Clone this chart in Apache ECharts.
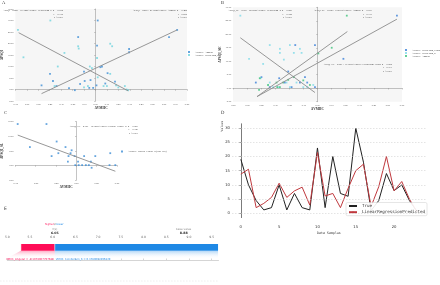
<!DOCTYPE html>
<html>
<head>
<meta charset="utf-8">
<script src="https://cdn.jsdelivr.net/npm/echarts@6/dist/echarts.min.js"></script>
<style>
  html, body { margin: 0; padding: 0; background: #fff; }
  #chart { width: 440px; height: 285px; }
</style>
</head>
<body>
<div id="chart"></div>
<script>
// ---- panel A: ΔPSQI vs ΔVMHC ----
const aAngular = [
  [-0.471, 1.8], [-0.397, 6.8], [-0.371, 3.7], [-0.340, 1.5], [-0.231, 0.6], [-0.180, -0.3],
  [-0.151, 22.8], [-0.134, 2.4], [-0.100, 7.8], [-0.094, 3.7], [-0.054, 0.7], [-0.043, 4.1],
  [-0.020, 0.7], [0.014, 19.1], [0.020, 30.0], [0.009, 1.8], [0.043, 9.7], [0.057, 10.0],
  [0.086, 2.6], [0.106, 7.1], [0.171, 3.4], [0.294, 17.6], [0.294, 16.2], [0.643, 22.8], [0.714, 25.9]
];
const aCerebellum6 = [
  [-0.677, 25.9], [-0.629, 14.0], [-0.394, 30.0], [-0.329, 10.0], [-0.271, 15.9], [-0.151, 18.8],
  [-0.146, 17.8], [-0.049, 10.0], [-0.031, 9.3], [0.014, 13.7], [0.129, 19.9], [0.146, 18.8],
  [0.129, 6.8], [0.020, 5.3], [0.071, 1.5], [0.100, 1.5], [0.180, 1.8], [0.200, 0.9],
  [0.257, 1.5], [0.271, 0.0], [0.286, -0.3], [-0.066, 1.5], [-0.100, 0.9], [-0.357, 1.5]
];
const aFitCerebellum6 = [[-0.671, 24.7], [0.286, -0.6]];
const aFitAngular = [[-0.471, -1.8], [0.714, 25.9]];

// ---- panel B: ΔPSQI_SE vs ΔVMHC ----
const bCrus2 = [
  [-0.438, 2.1], [-0.398, 4.1], [-0.339, 0.4], [-0.272, 3.7], [-0.232, 2.1], [-0.184, 0.4],
  [-0.158, 16.0], [-0.125, 2.1], [-0.073, 2.1], [-0.018, 16.0], [-0.018, 0.4], [0.184, 10.9],
  [0.564, 26.9], [-0.208, 6.2], [-0.089, 4.1]
];
const bCerebellum4 = [
  [-0.548, 26.9], [-0.486, 10.9], [-0.386, 9.0], [-0.339, 16.0], [-0.267, 14.6], [-0.267, 13.1],
  [-0.239, 10.6], [-0.196, 16.0], [-0.168, 13.1], [-0.125, 14.6], [-0.113, 13.1], [-0.405, 3.7],
  [-0.339, 2.1], [-0.315, 0.4], [-0.279, 0.4], [-0.220, 2.1], [-0.196, 0.4], [-0.149, 2.1],
  [-0.101, 0.4], [-0.073, 0.4], [-0.030, 1.2]
];
const bAngular = [
  [-0.415, -0.6], [-0.410, 3.7], [-0.351, 1.2], [-0.291, 2.1], [-0.286, 0.4], [-0.244, 2.1],
  [-0.208, 3.1], [-0.168, 4.1], [-0.101, 2.9], [-0.054, 1.2], [0.006, 12.9], [0.101, 15.0],
  [0.208, 26.9], [-0.267, 0.4]
];
const bFitCerebellum4 = [[-0.548, 18.7], [-0.018, -1.6]];
const bFitAngular = [[-0.429, -3.1], [0.212, 21.0]];
const bFitCrus2 = [[-0.429, -3.1], [0.564, 25.6]];

// ---- panel C ----
const cParietal = [
  [-0.721, 14.2], [-0.571, 6.3], [-0.367, 14.2], [-0.304, 3.2], [-0.242, 8.2], [-0.221, 4.2],
  [-0.133, 6.3], [-0.104, 1.3], [-0.096, 3.2], [-0.071, 4.2], [-0.058, 5.2], [-0.021, 3.2],
  [-0.013, 0.1], [0.021, 1.3], [0.029, 0.1], [0.071, 0.1], [0.096, 3.2], [0.117, 0.1],
  [0.154, 0.1], [0.179, 1.3], [0.188, -0.8], [0.233, 3.2], [0.417, 4.2], [0.408, 0.1], [0.479, 0.1]
];
const cFit = [[-0.72, 10.4], [0.48, -2.0]];

// ---- panel D: true vs predicted ----
const dTrue =      [19, 10, 4.5, 1.2, 2, 10, 1.2, 7, 2, 1.2, 23, 2, 20, 7, 6, 30, 18, 1, 4.5, 14, 8, 10, 4.5, 0.6];
const dPredicted = [13.8, 15.5, 2, 3.5, 5.6, 10.6, 5.6, 7.9, 9.2, 2.9, 21.4, 6.1, 7, 2, 8.8, 15, 17.3, 2.4, 9.4, 20, 7.9, 11.2, 5, 0.5];
const dTicksX = [0, 5, 10, 15, 20];
const dTicksY = [0, 5, 10, 15, 20, 25, 30];

// ---- panel E: force plot ----
const eSegments = [[5.30, 6.046, 0], [6.046, 9.64, 1]];
const eFx = 6.046;
const eBase = 8.883;
const eTicks = [5.0, 5.5, 6.0, 6.5, 7.0, 7.5, 8.0, 8.5, 9.0, 9.5];
const eFeatures = ['VMHC_Angular = -0.1074067797686', 'VMHC_Cerebellum_6 = 0.3780602495829'];

const serif = 'Liberation Serif';
const pink = '#ff0d57';
const blue = '#1e88e5';

function sAxis(grid, min, max, interval, digits, name, gap) {
  return {
    gridIndex: grid, type: 'value', min: min, max: max, interval: interval,
    name: name, nameLocation: 'middle', nameGap: gap,
    nameTextStyle: { fontSize: 3.4, fontFamily: serif, fontWeight: 'bold', color: '#333' },
    axisLine: { lineStyle: { color: '#888', width: 0.5 } },
    axisTick: { length: 1.2, lineStyle: { color: '#888', width: 0.5 } },
    axisLabel: { fontSize: 2.5, fontFamily: serif, color: '#444', margin: 1.8,
      formatter: function (v) { return v.toFixed(digits); } },
    splitLine: { show: false }
  };
}

function dots(name, data, xi, color) {
  return { name: name, type: 'scatter', xAxisIndex: xi, yAxisIndex: xi, data: data,
    symbol: 'rect', symbolSize: 1.8, itemStyle: { color: color } };
}
function fit(data, xi) {
  return { name: 'fit', type: 'line', xAxisIndex: xi, yAxisIndex: xi, data: data,
    symbol: 'none', silent: true, lineStyle: { color: '#8c8c8c', width: 0.9 } };
}

function txt(x, y, s, opt) {
  opt = opt || {};
  return { type: 'text', x: x, y: y, silent: true, rotation: opt.rot || 0,
    style: { text: s, fill: opt.color || '#333', font: (opt.weight || 'normal') + ' ' + (opt.size || 2.4) + 'px ' + (opt.family || serif),
      textAlign: opt.align || 'left', align: opt.align || 'left', textVerticalAlign: 'middle', verticalAlign: 'middle' } };
}

function renderForce(params, api) {
  const p0 = api.coord([api.value(0), 1]);
  const p1 = api.coord([api.value(1), 1]);
  const kind = api.value(2);
  const top = p0[1] + 4, h = 6.7, bot = top + h;
  const col = kind === 0 ? pink : blue;
  const children = [];
  const fade = kind === 0
    ? [[p0[0], bot], [p1[0], bot], [p1[0], bot + 7.5], [p0[0] - 14, bot + 7.5]]
    : [[p0[0], bot], [p1[0], bot], [p1[0], bot + 8], [p0[0], bot + 8]];
  children.push({ type: 'polygon', shape: { points: fade },
    style: { fill: new echarts.graphic.LinearGradient(0, 0, 0, 1, [
      { offset: 0, color: kind === 0 ? 'rgba(255,13,87,0.35)' : 'rgba(30,136,229,0.35)' },
      { offset: 1, color: 'rgba(255,255,255,0)' }]) } });
  children.push({ type: 'rect', shape: { x: p0[0], y: top, width: p1[0] - p0[0], height: h }, style: { fill: col } });
  children.push({ type: 'line', shape: { x1: p0[0], y1: top, x2: p0[0], y2: bot }, style: { stroke: '#fff', lineWidth: 0.5 } });
  const lbl = txt(kind === 0 ? p1[0] - 1 : p0[0] + 1, bot + 8.5, eFeatures[kind],
    { color: col, size: 2.6, family: 'DejaVu Sans', align: kind === 0 ? 'right' : 'left' });
  children.push(lbl);
  if (params.dataIndex === 0) {
    const fx = api.coord([eFx, 1])[0];
    const bs = api.coord([eBase, 1])[0];
    children.push(txt(fx - 1, -16 + p0[1], 'higher', { color: pink, size: 2.8, family: 'DejaVu Sans', align: 'right' }));
    children.push(txt(fx, -16 + p0[1], '⇄', { color: '#888', size: 2.8, family: 'DejaVu Sans', align: 'center' }));
    children.push(txt(fx + 1.2, -16 + p0[1], 'lower', { color: blue, size: 2.8, family: 'DejaVu Sans', align: 'left' }));
    children.push(txt(fx, -11 + p0[1], 'f(x)', { color: '#888', size: 2.8, family: 'DejaVu Sans', align: 'center' }));
    children.push(txt(fx, -7 + p0[1], eFx.toFixed(2), { color: '#222', size: 3.2, family: 'DejaVu Sans', weight: 'bold', align: 'center' }));
    children.push(txt(bs, -11 + p0[1], 'base value', { color: '#888', size: 2.8, family: 'DejaVu Sans', align: 'center' }));
    children.push(txt(bs, -7 + p0[1], eBase.toFixed(2), { color: '#222', size: 3.2, family: 'DejaVu Sans', weight: 'bold', align: 'center' }));
  }
  return { type: 'group', children: children };
}

const chart = echarts.init(document.getElementById('chart'));

const legendText = { fontSize: 2.4, fontFamily: serif, color: '#333' };
const option = {
  animation: false,
  backgroundColor: '#fff',
  grid: [
    { left: 13, top: 9, width: 174, height: 92, show: true, backgroundColor: '#f6f6f6', borderWidth: 0 },
    { left: 233, top: 7.3, width: 169, height: 94.4, show: true, backgroundColor: '#f6f6f6', borderWidth: 0 },
    { left: 15, top: 121.7, width: 102, height: 58.3 },
    { left: 232, top: 123.8, width: 193.9, height: 93.8 },
    { left: 7.3, top: 240, width: 211.2, height: 20 }
  ],
  xAxis: [
    sAxis(0, -0.7, 0.8, 0.1, 2, 'ΔVMHC', 6),
    sAxis(1, -0.6, 0.6, 0.1, 2, 'ΔVMHC', 4.5),
    sAxis(2, -0.75, 0.5, 0.25, 2, 'ΔVMHC', 5),
    { gridIndex: 3, type: 'value', min: -1.15, max: 24.15,
      name: 'Data Samples', nameLocation: 'middle', nameGap: 14,
      nameTextStyle: { fontSize: 3.3, fontFamily: 'DejaVu Sans Mono', color: '#333' },
      axisLine: { show: false }, axisTick: { show: false }, splitLine: { show: false },
      axisLabel: { customValues: dTicksX, fontSize: 3.8, fontFamily: 'DejaVu Sans', color: '#333', margin: 7 } },
    { gridIndex: 4, type: 'value', min: 5, max: 9.65, position: 'top',
      axisLine: { lineStyle: { color: '#aaa', width: 0.5 } },
      axisTick: { customValues: eTicks, length: 1.5, lineStyle: { color: '#aaa', width: 0.5 } },
      axisLabel: { customValues: eTicks, fontSize: 3, fontFamily: 'DejaVu Sans', color: '#666', margin: 1.5,
        formatter: function (v) { return v.toFixed(1); } },
      splitLine: { show: false } }
  ],
  yAxis: [
    sAxis(0, -5, 35, 5, 2, 'ΔPSQI', 6.5),
    sAxis(1, -5, 30, 5, 2, 'ΔPSQI_SE', 7),
    sAxis(2, -5, 15, 5, 2, 'ΔPSQI_SL', 8),
    { gridIndex: 3, type: 'value', min: -1.5, max: 31.5,
      axisLine: { show: true, lineStyle: { color: '#222', width: 0.6 } },
      axisTick: { show: true, customValues: dTicksY, length: 1.5, lineStyle: { color: '#222', width: 0.5 } },
      axisLabel: { customValues: dTicksY, fontSize: 3.8, fontFamily: 'DejaVu Sans', color: '#333', margin: 2 },
      splitLine: { show: false } },
    { gridIndex: 4, type: 'value', min: 0, max: 1, show: false }
  ],
  legend: [
    { left: 188, top: 51, orient: 'vertical', itemGap: 1, itemWidth: 2, itemHeight: 2, padding: 0,
      textStyle: legendText, data: [
        { name: 'ΔVMHC_Angular', icon: 'rect', itemStyle: { color: '#3f8fd6' } },
        { name: 'ΔVMHC_Cerebellum_6', icon: 'rect', itemStyle: { color: '#6fd5df' } }] },
    { left: 405, top: 49, orient: 'vertical', itemGap: 1, itemWidth: 2, itemHeight: 2, padding: 0,
      textStyle: legendText, data: [
        { name: 'ΔVMHC_Cerebellum_Crus2', icon: 'rect', itemStyle: { color: '#3a7fd8' } },
        { name: 'ΔVMHC_Cerebellum_4', icon: 'rect', itemStyle: { color: '#7fdbe8' } },
        { name: 'ΔVMHC_Angular ', icon: 'rect', itemStyle: { color: '#3cc47c' } }] },
    { left: 121, top: 150.5, orient: 'vertical', itemWidth: 2, itemHeight: 2, padding: 0,
      textStyle: legendText, data: [
        { name: 'ΔVMHC_Parietal_Lobule_R(Cog_Ctrl)', icon: 'rect', itemStyle: { color: '#3f8fd6' } }] },
    { left: 346, top: 202.5, orient: 'vertical', itemGap: 2.2, itemWidth: 8, itemHeight: 2,
      padding: [1.5, 2, 1.5, 2], borderColor: '#ccc', borderWidth: 0.5, borderRadius: 1.5,
      backgroundColor: 'rgba(255,255,255,0.9)',
      textStyle: { fontSize: 4.2, fontFamily: 'DejaVu Sans Mono', color: '#333' },
      data: ['True', 'LinearRegressionPredicted'] }
  ],
  series: [
    dots('ΔVMHC_Angular', aAngular, 0, '#3f8fd6'),
    dots('ΔVMHC_Cerebellum_6', aCerebellum6, 0, '#6fd5df'),
    fit(aFitCerebellum6, 0),
    fit(aFitAngular, 0),
    dots('ΔVMHC_Cerebellum_Crus2', bCrus2, 1, '#3a7fd8'),
    dots('ΔVMHC_Cerebellum_4', bCerebellum4, 1, '#7fdbe8'),
    dots('ΔVMHC_Angular ', bAngular, 1, '#3cc47c'),
    fit(bFitCerebellum4, 1),
    fit(bFitAngular, 1),
    fit(bFitCrus2, 1),
    dots('ΔVMHC_Parietal_Lobule_R(Cog_Ctrl)', cParietal, 2, '#3f8fd6'),
    fit(cFit, 2),
    { name: 'True', type: 'line', xAxisIndex: 3, yAxisIndex: 3, symbol: 'none',
      data: dTrue.map(function (v, i) { return [i, v]; }),
      lineStyle: { color: '#222', width: 1 }, itemStyle: { color: '#222' },
      markLine: { silent: true, symbol: 'none', label: { show: false },
        lineStyle: { type: [1.5, 1.5], color: '#c8c8c8', width: 0.5 },
        data: dTicksY.map(function (v) { return { yAxis: v }; }) } },
    { name: 'LinearRegressionPredicted', type: 'line', xAxisIndex: 3, yAxisIndex: 3, symbol: 'none',
      data: dPredicted.map(function (v, i) { return [i, v]; }),
      lineStyle: { color: '#c0393e', width: 1 }, itemStyle: { color: '#c0393e' } },
    { type: 'custom', xAxisIndex: 4, yAxisIndex: 4, data: eSegments, renderItem: renderForce, silent: true, clip: false }
  ],
  graphic: [
    txt(2, 3, 'A', { size: 4.5 }),
    txt(221, 3, 'B', { size: 4.5 }),
    txt(4, 113, 'C', { size: 4.5 }),
    txt(221, 113, 'D', { size: 4.5, family: 'DejaVu Sans' }),
    txt(4, 209, 'E', { size: 4.5, family: 'DejaVu Sans' }),
    txt(222, 126, 'Values', { size: 3, family: 'DejaVu Sans Mono', rot: Math.PI / 2, align: 'center' }),
    // panel A equations
    txt(63, 10.5, 'ΔPSQI = 8.265 − 16.342*ΔVMHC_Cerebellum_6  R² = 0.512', { align: 'right' }),
    txt(63, 14, 'r = -0.716', { align: 'right' }),
    txt(63, 17.5, 'P < 0.001', { align: 'right' }),
    txt(187, 10.5, 'ΔPSQI = 8.523 + 21.344*ΔVMHC_Angular  R² = 0.485', { align: 'right' }),
    txt(187, 14, 'r = 0.696', { align: 'right' }),
    txt(187, 17.5, 'P < 0.001', { align: 'right' }),
    // panel B equations
    txt(292, 10.5, 'ΔPSQI_SE = 5.993 − 20.098*ΔVMHC_Cerebellum_4  R² = 0.527', { align: 'right' }),
    txt(292, 14, 'r = -0.726', { align: 'right' }),
    txt(292, 17.5, 'P < 0.001', { align: 'right' }),
    txt(372, 10.5, 'ΔPSQI_SE = 5.764 + 19.003*ΔVMHC_Angular  R² = 0.513', { align: 'right' }),
    txt(372, 14, 'r = 0.717', { align: 'right' }),
    txt(372, 17.5, 'P < 0.001', { align: 'right' }),
    txt(392, 64, 'ΔPSQI_SE = 6.003 + 17.795*ΔVMHC_Cerebellum_Crus2  R² = 0.595', { align: 'right' }),
    txt(392, 67.5, 'r = 0.771', { align: 'right' }),
    txt(392, 71, 'P < 0.001', { align: 'right' }),
    // panel C equation
    txt(138, 126, 'ΔPSQI_SL = 2.763 − 10.352*ΔVMHC_Parietal_Lobule_R  R² = 0.553', { align: 'right' }),
    txt(138, 129.5, 'r = -0.743', { align: 'right' }),
    txt(138, 133, 'P < 0.001', { align: 'right' }),
    // separator under force plot
    { type: 'line', silent: true, shape: { x1: 0, y1: 281, x2: 218, y2: 281 },
      style: { stroke: '#ddd', lineWidth: 0.5, lineDash: [1.5, 1.5] } }
  ]
};

chart.setOption(option);
</script>
</body>
</html>
